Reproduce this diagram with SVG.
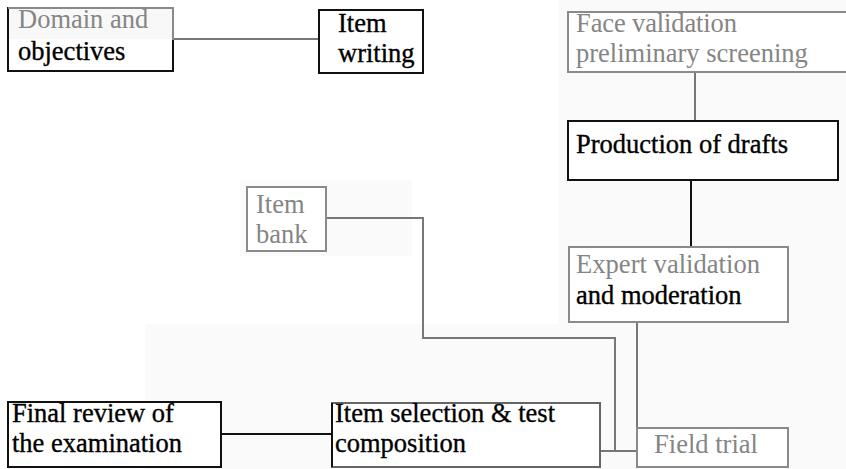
<svg xmlns="http://www.w3.org/2000/svg" width="846" height="469" viewBox="0 0 846 469" font-family="'Liberation Serif', 'Times New Roman', serif">
  <style>
    text { font-family: "Liberation Serif", "Times New Roman", serif; font-size: 26.5px; }
    .g { fill: #858585; }
    .k { fill: #000; stroke: #000; stroke-width: 0.35; }
    .bx { fill: #fff; stroke-width: 2; }
    .bg { stroke: #8a8a8a; }
    .bk { stroke: #111; }
    .ln { fill: none; stroke: #777; stroke-width: 2; }
    .lk { fill: none; stroke: #111; stroke-width: 2; }
  </style>
  <rect width="846" height="469" fill="#fff"/>
  <!-- faint paper tone -->
  <g fill="#fafafa">
    <rect x="558" y="0" width="288" height="469"/>
    <rect x="240" y="180" width="172" height="76"/>
    <rect x="145" y="324" width="413" height="145"/>
  </g>

  <g id="connectors">
    <line class="ln" x1="173" y1="39" x2="319" y2="39"/>
    <line class="ln" x1="695" y1="72" x2="695" y2="121"/>
    <line class="lk" x1="691" y1="180" x2="691" y2="247"/>
    <path class="ln" d="M326,218 H423 V338 H615 V451"/>
    <path class="ln" d="M600,451 H637"/>
    <line class="ln" x1="637" y1="322" x2="637" y2="428"/>
    <line class="lk" x1="221" y1="434" x2="332" y2="434" stroke-width="3"/>
  </g>

  <g id="domain">
    <rect class="bx bk" x="8" y="8" width="165" height="63"/>
    <rect x="9" y="9" width="163" height="30" fill="#f8f8f8"/>
    <path d="M8,8 H173 V40" fill="none" stroke="#8a8a8a" stroke-width="2"/>
    <text class="g" x="18" y="28">Domain and</text>
    <text class="k" x="18" y="60">objectives</text>
  </g>

  <g id="item-writing">
    <rect class="bx bk" x="319" y="10" width="104" height="63"/>
    <text class="k" x="338" y="32">Item</text>
    <text class="k" x="338" y="62">writing</text>
  </g>

  <g id="face-validation">
    <rect class="bx bg" x="568" y="12" width="290" height="60" fill="#fbfbfb"/>
    <text class="g" x="576" y="32" textLength="161" lengthAdjust="spacing">Face validation</text>
    <text class="g" x="576" y="62">preliminary screening</text>
  </g>

  <g id="production">
    <rect class="bx bk" x="568" y="121" width="270" height="59"/>
    <text class="k" x="576" y="153">Production of drafts</text>
  </g>

  <g id="item-bank">
    <rect class="bx bg" x="247" y="187" width="79" height="64" fill="#fbfbfb"/>
    <text class="g" x="256" y="213">Item</text>
    <text class="g" x="256" y="243">bank</text>
  </g>

  <g id="expert-validation">
    <rect class="bx bg" x="569" y="247" width="219" height="75" fill="#fcfcfc"/>
    <text class="g" x="576" y="273" textLength="184" lengthAdjust="spacingAndGlyphs">Expert validation</text>
    <text class="k" x="576" y="304">and moderation</text>
  </g>

  <g id="field-trial">
    <rect class="bx bg" x="637" y="428" width="151" height="39" fill="#fcfcfc"/>
    <text class="g" x="654" y="453" textLength="104" lengthAdjust="spacingAndGlyphs">Field trial</text>
  </g>

  <g id="final-review">
    <rect class="bx bk" x="8" y="402" width="213" height="65"/>
    <text class="k" x="12" y="422">Final review of</text>
    <text class="k" x="12" y="452">the examination</text>
  </g>

  <g id="item-selection">
    <rect class="bx" x="332" y="403" width="268" height="64" stroke="#666"/>
    <line x1="332" y1="403" x2="332" y2="467" stroke="#111" stroke-width="2"/>
    <text class="k" x="335" y="422">Item selection &amp; test</text>
    <text class="k" x="335" y="452">composition</text>
  </g>
</svg>
